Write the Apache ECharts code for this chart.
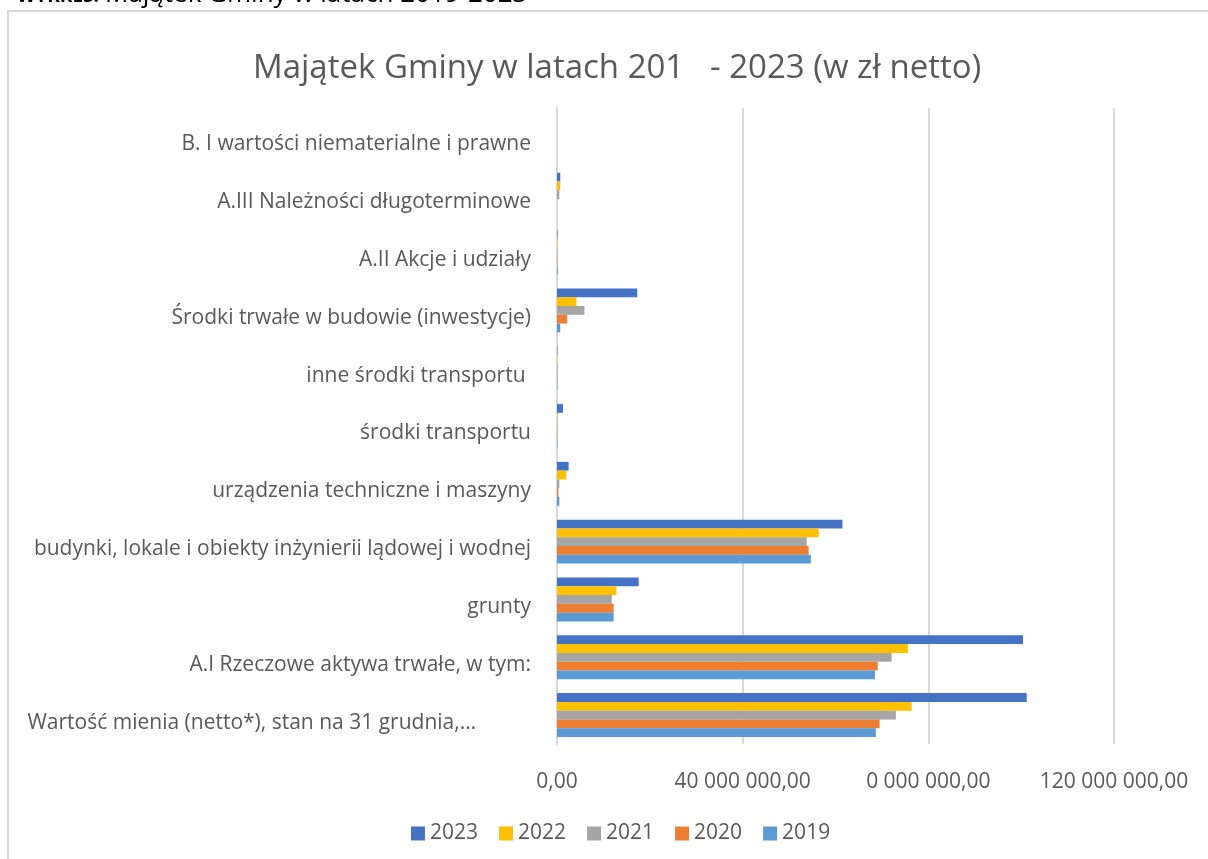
<!DOCTYPE html>
<html>
<head>
<meta charset="utf-8">
<script src="https://cdn.jsdelivr.net/npm/echarts@6/dist/echarts.min.js"></script>
<style>
  html, body { margin: 0; padding: 0; background: #fff; }
  #chart { width: 1208px; height: 859px; }
</style>
</head>
<body>
<div id="chart"></div>
<script>
// kategorie od dołu do góry (oś Y w ECharts rośnie do góry)
var categories = [
  'Wartość mienia (netto*), stan na 31 grudnia,…',
  'A.I Rzeczowe aktywa trwałe, w tym:',
  'grunty',
  'budynki, lokale i obiekty inżynierii lądowej i wodnej',
  'urządzenia techniczne i maszyny',
  'środki transportu',
  'inne środki transportu ',
  'Środki trwałe w budowie (inwestycje)',
  'A.II Akcje i udziały',
  'A.III Należności długoterminowe',
  'B. I wartości niematerialne i prawne'
];

var years = ['2023', '2022', '2021', '2020', '2019'];

// wartości w zł
var v2023 = [101200000, 100400000, 17600000, 61500000, 2500000, 1300000, 100000, 17300000, 100000, 700000, 0];
var v2022 = [76400000, 75600000, 12800000, 56400000, 2000000, 100000, 100000, 4200000, 100000, 700000, 0];
var v2021 = [73000000, 72100000, 11800000, 53800000, 500000, 100000, 100000, 5900000, 100000, 500000, 0];
var v2020 = [69500000, 69100000, 12200000, 54200000, 300000, 100000, 100000, 2200000, 100000, 0, 0];
var v2019 = [68700000, 68500000, 12200000, 54700000, 500000, 100000, 100000, 700000, 150000, 0, 0];

var colors = ['#4472C4', '#FFC000', '#A5A5A5', '#ED7D31', '#5B9BD5'];
var tickLabels = ['0,00', '40 000 000,00', '0 000 000,00', '120 000 000,00'];

var chart = echarts.init(document.getElementById('chart'));
var font = '"Open Sans", sans-serif';
var values = [v2023, v2022, v2021, v2020, v2019];

var series = years.map(function (y, i) {
  return {
    name: y,
    type: 'bar',
    data: values[i],
    itemStyle: { color: colors[i] },
    barGap: '0%',
    barCategoryGap: '24%'
  };
});

chart.setOption({
  animation: false,
  textStyle: { fontFamily: font },
  graphic: [
    {
      type: 'rect',
      shape: { x: 8, y: 11, width: 1300, height: 900 },
      style: { fill: 'none', stroke: '#d9d9d9', lineWidth: 2 }
    },
    {
      type: 'text',
      style: {
        x: 17, y: -3, verticalAlign: 'middle',
        text: 'WYKRES:',
        font: 'bold 19px ' + font,
        fill: '#000'
      }
    },
    {
      type: 'text',
      style: {
        x: 105, y: -5, verticalAlign: 'middle',
        text: 'Majątek Gminy w latach 2019-2023',
        font: '26px ' + font,
        fill: '#000'
      }
    }
  ],
  title: {
    text: 'Majątek Gminy w latach 201   - 2023 (w zł netto)',
    left: 248,
    top: 47,
    textStyle: { color: '#595959', fontSize: 33, fontWeight: 'normal', fontFamily: font }
  },
  legend: {
    data: years,
    bottom: 10,
    left: 406,
    itemWidth: 14,
    itemHeight: 14,
    itemGap: 21,
    icon: 'rect',
    textStyle: { color: '#595959', fontSize: 21, fontFamily: font }
  },
  grid: { left: 557, right: 94, top: 108, bottom: 115 },
  xAxis: {
    type: 'value',
    min: 0, max: 120000000, interval: 40000000,
    axisLine: { show: false },
    axisTick: { show: false },
    splitLine: { lineStyle: { color: '#d9d9d9', width: 2 } },
    axisLabel: {
      color: '#595959', fontSize: 21, margin: 28,
      formatter: function (v) { return tickLabels[Math.round(v / 40000000)]; }
    }
  },
  yAxis: {
    type: 'category',
    data: categories,
    axisLine: { show: true, lineStyle: { color: '#d9d9d9', width: 2 } },
    axisTick: { show: false },
    axisLabel: {
      color: '#595959', fontSize: 21, margin: 26, padding: [15, 0, 0, 0],
      formatter: function (v, i) {
        return i === 0 ? '{t|' + v + '}' : v;
      },
      rich: { t: { color: '#595959', fontSize: 21, fontFamily: font, padding: [0, 55, 0, 0] } }
    }
  },
  series: series
});
</script>
</body>
</html>
